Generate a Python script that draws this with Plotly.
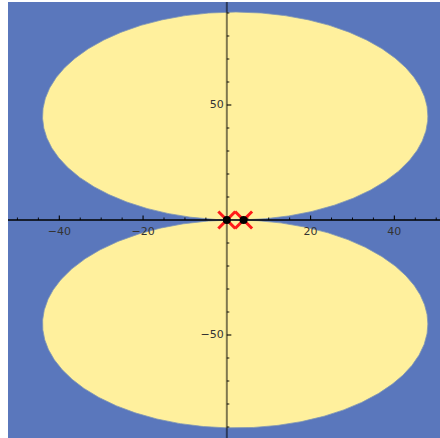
import numpy as np
import plotly.graph_objects as go

# Region lobes: centre x, centre |y|, semi-axes
lobe_cx = 2.0
lobe_cy = 45.2
lobe_rx = 46.0
lobe_ry = 45.2

# Points marked on the real axis
pts_x = [0.0, 4.0]
pts_y = [0.0, 0.0]

# Axis ticks
x_major = [-40, -20, 20, 40]
x_minor = [v for v in range(-50, 55, 5) if v not in (-40, -20, 0, 20, 40)]
y_major = [-50, 50]
y_minor = [v for v in range(-90, 100, 10) if v not in (-50, 0, 50)]
x_labels = ["\u221240", "\u221220", "20", "40"]
y_labels = ["\u221250", "50"]

x_range = [-52.25, 50.9]
y_range = [-94.78, 94.78]

BLUE = "#5a77bc"
YELLOW = "#fff09d"

fig = go.Figure()

t = np.linspace(0, 2 * np.pi, 721)
for sgn in (1, -1):
    fig.add_trace(go.Scatter(
        x=lobe_cx + lobe_rx * np.cos(t),
        y=sgn * lobe_cy + lobe_ry * np.sin(t),
        mode="lines", fill="toself", fillcolor=YELLOW,
        line=dict(color="#8097b4", width=0.8),
        hoverinfo="skip", showlegend=False))

# vertical axis (translucent)
fig.add_trace(go.Scatter(x=[0, 0], y=y_range, mode="lines",
                         line=dict(color="rgba(0,0,0,0.5)", width=2),
                         hoverinfo="skip", showlegend=False))
# horizontal axis
fig.add_trace(go.Scatter(x=x_range, y=[0, 0], mode="lines",
                         line=dict(color="black", width=1.3),
                         hoverinfo="skip", showlegend=False))

# tick marks (lengths in data units converted from pixel sizes)
px_x = (x_range[1] - x_range[0]) / 432.0
px_y = (y_range[1] - y_range[0]) / 436.0


def seg_lines(vals, horiz, length):
    xs, ys = [], []
    for v in vals:
        if horiz:
            xs += [v, v, None]
            ys += [0, length, None]
        else:
            xs += [0, length, None]
            ys += [v, v, None]
    return xs, ys


for vals, horiz, ln, w in [
    (x_major, True, 4.5 * px_y, 1.1),
    (x_minor, True, 2.5 * px_y, 0.9),
    (y_major, False, 4.5 * px_x, 1.1),
    (y_minor, False, 2.5 * px_x, 0.9),
]:
    xs, ys = seg_lines(vals, horiz, ln)
    fig.add_trace(go.Scatter(x=xs, y=ys, mode="lines",
                             line=dict(color="black", width=w),
                             hoverinfo="skip", showlegend=False))

# tick labels
fig.add_trace(go.Scatter(x=x_major, y=[-12 * px_y] * len(x_major), mode="text",
                         text=x_labels, textposition="middle center",
                         textfont=dict(family="DejaVu Sans", size=11, color="#333333"),
                         hoverinfo="skip", showlegend=False))
fig.add_trace(go.Scatter(x=[-3 * px_x] * len(y_major), y=y_major, mode="text",
                         text=y_labels, textposition="middle left",
                         textfont=dict(family="DejaVu Sans", size=11, color="#333333"),
                         hoverinfo="skip", showlegend=False))

# marked points: red crosses with black dots
fig.add_trace(go.Scatter(x=pts_x, y=pts_y, mode="markers",
                         marker=dict(symbol="x-thin-open", size=17, color="#ff1a1a",
                                     line=dict(color="#ff1a1a", width=3)),
                         hoverinfo="skip", showlegend=False))
fig.add_trace(go.Scatter(x=pts_x, y=pts_y, mode="markers",
                         marker=dict(symbol="circle", size=8, color="black"),
                         hoverinfo="skip", showlegend=False))

fig.update_layout(
    width=440, height=438,
    margin=dict(l=8, r=0, t=2, b=0),
    paper_bgcolor="white", plot_bgcolor=BLUE,
    xaxis=dict(range=x_range, visible=False, fixedrange=True),
    yaxis=dict(range=y_range, visible=False, fixedrange=True),
)

fig.write_html("out.html")
